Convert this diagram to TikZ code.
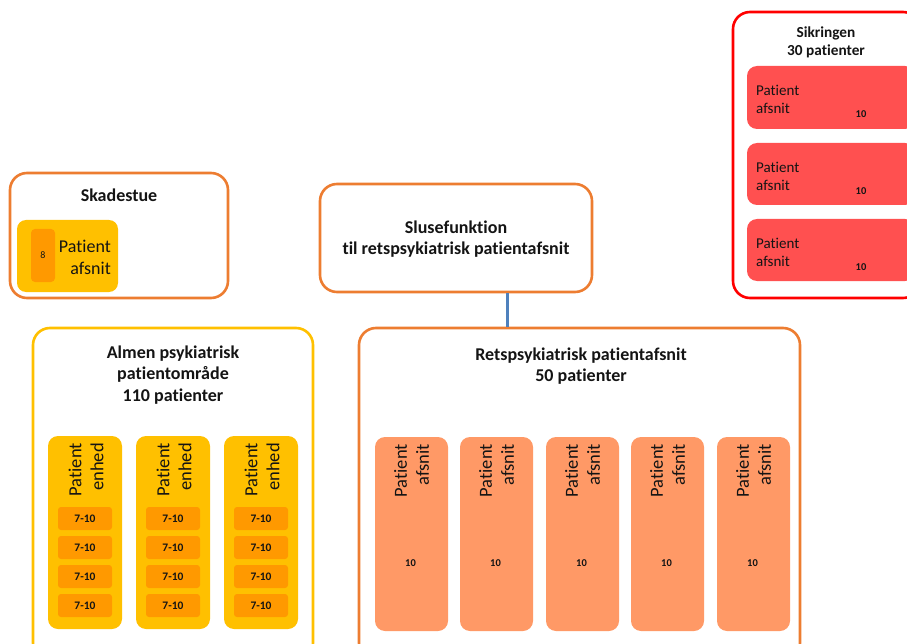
\documentclass[tikz,border=0pt]{standalone}
\usepackage{fontspec}
\setmainfont{Carlito}[RawFeature=-liga]
\usetikzlibrary{fit}
\definecolor{frameorange}{HTML}{ED7D31}
\definecolor{unityellow}{HTML}{FFC000}
\definecolor{bedorange}{HTML}{FF9900}
\definecolor{wardsalmon}{HTML}{FF9966}
\definecolor{securered}{HTML}{FF5050}
\definecolor{securestroke}{HTML}{FF0000}
\definecolor{linkblue}{HTML}{4F81BD}
\definecolor{ink}{HTML}{141414}
\tikzset{
  frame/.style={draw, line width=2.6pt, rounded corners=17pt, inner sep=0pt, fill=white},
  tile/.style={inner sep=0pt, rounded corners=10pt},
  chip/.style={inner sep=0pt, rounded corners=3pt, fill=bedorange},
  heading/.style={font=\fontsize{18}{21.5}\selectfont\bfseries, text=ink, align=center, inner sep=0pt},
  vlabel/.style={font=\fontsize{18.5}{22}\selectfont, text=ink, align=right, rotate=90, anchor=east, inner sep=0pt},
  count/.style={font=\fontsize{11.5}{12}\selectfont\bfseries, text=ink, inner sep=0pt},
}
\begin{document}
\begin{tikzpicture}[x=1pt,y=-1pt]
\useasboundingbox (0,0) rectangle (907,644);

% Skadestue
\node[frame, draw=frameorange, fit={(10,173) (228,298)}] (skade) {};
\node[heading] (skadeT) at (119,195) {Skadestue};
\node[tile, fill=unityellow, rounded corners=9pt, fit={(17,220) (118,292)}] (skadeU) {};
\node[chip, rounded corners=4pt, fit={(31,229) (55,282)}] (skadeN) {};
\node[count, font=\fontsize{10}{12}\selectfont] (skadeNum) at (skadeN) {8};
\node[font=\fontsize{18}{22}\selectfont, text=ink, align=right, anchor=east, inner sep=0pt] (skadeL) at (111,257) {Patient\\afsnit};

% Slusefunktion
\node[frame, draw=frameorange, fit={(320,184) (592,292)}] (sluse) {};
\node[heading] (sluseT) at (456,239) {Slusefunktion\\til retspsykiatrisk patientafsnit};

% Sikringen
\node[frame, draw=securestroke, fit={(733,12) (920,298)}] (sikr) {};
\node[heading, font=\fontsize{15.3}{18}\selectfont\bfseries] (sikrT) at (826,42) {Sikringen\\30 patienter};
\foreach \i/\ya/\yb in {1/66/129, 2/143/205, 3/219/281} {
  \node[tile, fill=securered, fit={(747,\ya) (915,\yb)}] (sikr\i) {};
  \node[font=\fontsize{15}{18}\selectfont, text=ink, align=left, anchor=north west, inner sep=0pt]
    (sikrL\i) at (756,\ya+19) {Patient\\afsnit};
  \node[count, font=\fontsize{10.5}{12}\selectfont\bfseries] (sikrN\i) at (861,\ya+48) {10};
}

% Almen psykiatrisk patientomraade
\node[frame, draw=unityellow, fit={(33,328) (313,660)}] (almen) {};
\node[heading] (almenT) at (173,375) {Almen psykiatrisk\\patientområde\\110 patienter};
\foreach \c/\x in {1/85, 2/173, 3/261} {
  \node[tile, fill=unityellow, fit={(\x-37,436) (\x+37,629)}] (enhed\c) {};
  \node[vlabel] (enhedL\c) at (\x+1,443) {Patient\\enhed};
  \foreach \r/\y in {1/518.5, 2/547.5, 3/576.5, 4/605.5} {
    \node[chip, fit={(\x-27,\y-11.5) (\x+27,\y+11.5)}] (bed\c\r) {};
    \node[count] (bedN\c\r) at (bed\c\r) {7-10};
  }
}

% Retspsykiatrisk patientafsnit
\node[frame, draw=frameorange, fit={(359,328) (800,660)}] (ret) {};
\node[heading] (retT) at (581,366) {Retspsykiatrisk patientafsnit\\50 patienter};
\foreach \c/\x in {1/411.5, 2/496.5, 3/582.5, 4/667.5, 5/753.5} {
  \node[tile, fill=wardsalmon, fit={(\x-36.5,437) (\x+36.5,631)}] (afs\c) {};
  \node[vlabel] (afsL\c) at (\x,444) {Patient\\afsnit};
  \node[count, font=\fontsize{10.5}{12}\selectfont\bfseries] (afsN\c) at (\x-1,563) {10};
}

% link between the sluice and the forensic ward
\coordinate (jn) at (507,0);
\draw[linkblue, line width=3pt] (sluse.south -| jn) -- (ret.north -| jn);
\end{tikzpicture}
\end{document}
